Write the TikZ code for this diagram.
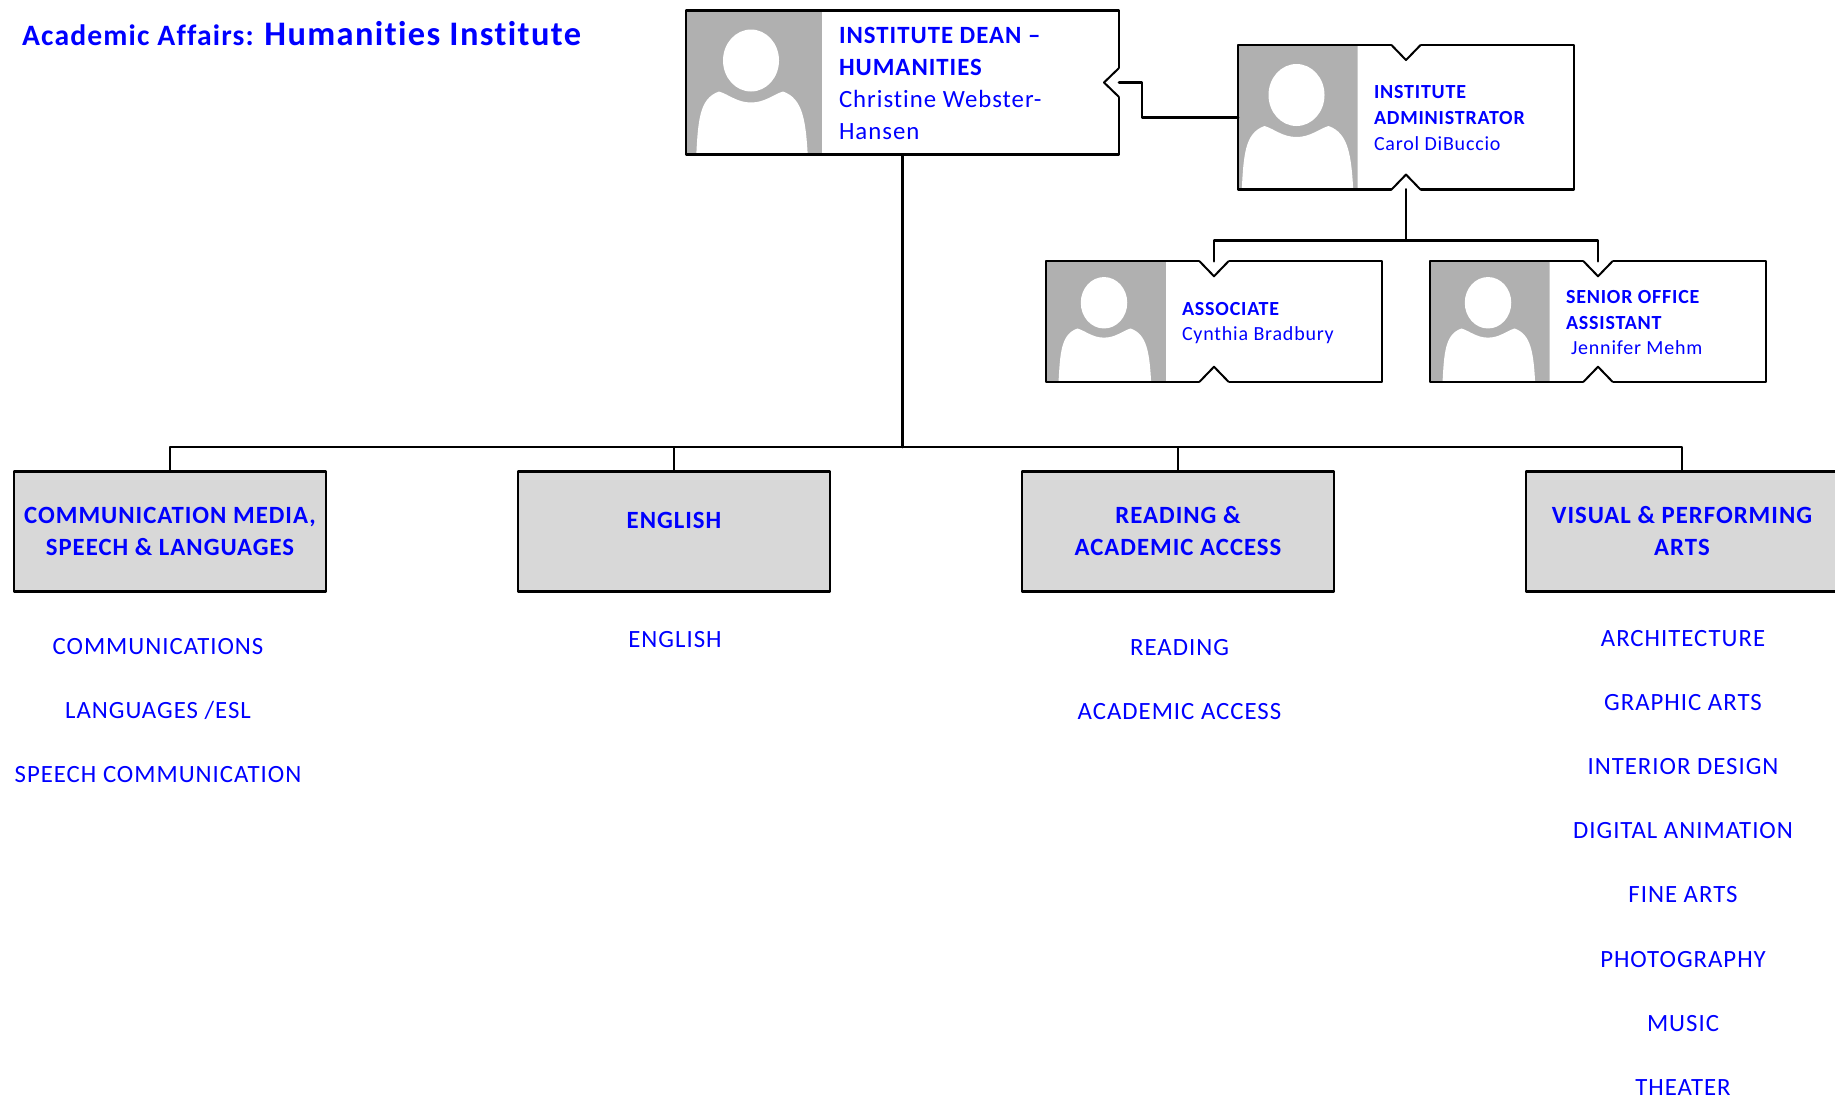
\documentclass[tikz,border=0pt]{standalone}
\usepackage{fontspec}
\setmainfont{Carlito}[LetterSpace=4,Ligatures=NoCommon]
\definecolor{labelblue}{HTML}{0000FF}
\definecolor{photogray}{HTML}{B0B0B0}
\definecolor{deptgray}{HTML}{D8D8D8}

\begin{document}
\begin{tikzpicture}[x=.5pt, y=-.5pt,
				line join=round, line cap=round,
				every node/.style = {inner sep=0pt, outer sep=0pt, text=labelblue},
				orgline/.style = {line width=1.4pt},
				thinline/.style = {line width=.9pt},
				cardbox/.style 2 args = {draw, line width=1.2pt,
					minimum width=#1*.5pt, minimum height=#2*.5pt},
				deptbox/.style = {draw, fill=deptgray, line width=1.1pt,
					minimum width=156pt, minimum height=60pt, align=center,
					font=\fontsize{12.4}{16}\selectfont\bfseries},
				bigtext/.style = {anchor=west, align=left, font=\fontsize{12.4}{16}\selectfont},
				cardtext/.style = {anchor=west, align=left, font=\fontsize{10}{12.8}\selectfont},
				itemtext/.style = {font=\fontsize{12.4}{14}\selectfont},
				pics/personphoto/.style n args = {4}{code={
					\clip (0,0) rectangle (#1,#2);
					\fill[photogray] (0,0) rectangle (#1,#2);
					\begin{scope}[shift={(#3,0)}, scale=#4]
						\fill[white] (0,50) ellipse [x radius=28, y radius=31];
						\fill[white] (-55,150) .. controls (-53,110) and (-52,88) .. (-32,81)
							.. controls (-22,84) and (-14,92) .. (0,92)
							.. controls (14,92) and (22,84) .. (32,81)
							.. controls (52,88) and (55,110) .. (57,150) -- cycle;
					\end{scope}
				}},
				pics/notchmark/.style = {code={
					\fill[white] (-14.5,-2.5) -- (14.5,-2.5) -- (14.5,0) -- (0,15) -- (-14.5,0) -- cycle;
					\draw[line width=1pt] (-14.5,0) -- (0,15) -- (14.5,0);
				}}
				]
				\useasboundingbox (0,0) rectangle (1835,1100);

				\node[anchor=base west, font=\fontsize{14.8}{16}\selectfont\bfseries] (title) at (22,45)
					{Academic Affairs: {\fontsize{17.2}{16}\selectfont Humanities Institute}};

				\pic at (686,10.5) {personphoto={136}{144}{65}{1}};
				\pic at (1238,45) {personphoto={119.5}{144.5}{58.5}{1}};
				\pic at (1046,261.25) {personphoto={120}{120.5}{58}{.83}};
				\pic at (1430,261.25) {personphoto={119.5}{120.5}{58}{.83}};

				\node[cardbox={433}{144}] (dean) at (902.5,82.5) {};
				\node[cardbox={336}{144.5}] (admin) at (1406,117.3) {};
				\node[cardbox={336}{120.5}] (assoc) at (1214,321.5) {};
				\node[cardbox={336}{120.5}] (senior) at (1598,321.5) {};

				\pic[rotate=-90] at (dean.east) {notchmark};
				\pic at (admin.north) {notchmark};
				\pic[rotate=180] at (admin.south) {notchmark};
				\pic at (assoc.north) {notchmark};
				\pic[rotate=180] at (assoc.south) {notchmark};
				\pic at (senior.north) {notchmark};
				\pic[rotate=180] at (senior.south) {notchmark};

				\node[bigtext] (deanlabel) at (839,83)
					{\textbf{INSTITUTE DEAN --}\\ \textbf{HUMANITIES}\\ Christine Webster-\\ Hansen};
				\node[cardtext] (adminlabel) at (1374,118)
					{\textbf{INSTITUTE}\\ \textbf{ADMINISTRATOR}\\ Carol DiBuccio};
				\node[cardtext] (assoclabel) at (1182,323)
					{\textbf{ASSOCIATE}\\ Cynthia Bradbury};
				\node[cardtext] (seniorlabel) at (1566,322.5)
					{\textbf{SENIOR OFFICE}\\ \textbf{ASSISTANT}\\ \hspace*{2.5pt}Jennifer Mehm};

				\node[deptbox] (comm) at (170,531.5) {COMMUNICATION MEDIA,\\ SPEECH \& LANGUAGES};
				\node[deptbox, text depth=11.5pt] (english) at (674,531.5) {ENGLISH};
				\node[deptbox] (reading) at (1178,531.5) {READING \&\\ ACADEMIC ACCESS};
				\node[deptbox] (visual) at (1682,531.5) {VISUAL \& PERFORMING\\ ARTS};

				\coordinate (trunk) at (902.5,447);
				\draw[orgline] (dean.east) -- ++(23,0) |- (admin.west);
				\draw[orgline] (admin.south) -- ++(0,51) -| (assoc.north);
				\draw[orgline] (admin.south) -- ++(0,51) -| (senior.north);
				\draw[orgline] (dean.south) -- (trunk);
				\draw[orgline] (trunk) -| (comm.north);
				\draw[thinline] (trunk) -| (english.north);
				\draw[thinline] (trunk) -| (reading.north);
				\draw[orgline] (trunk) -| (visual.north);

				\node[itemtext] (commone) at (158,647) {COMMUNICATIONS};
				\node[itemtext] (commtwo) at (158,710.5) {LANGUAGES /ESL};
				\node[itemtext] (commthree) at (158,775) {SPEECH COMMUNICATION};
				\node[itemtext] (engone) at (675,640) {ENGLISH};
				\node[itemtext] (readone) at (1179.5,648) {READING};
				\node[itemtext] (readtwo) at (1179.5,712) {ACADEMIC ACCESS};
				\foreach \itemname/\itemy [count=\i] in {ARCHITECTURE/639, GRAPHIC ARTS/703,
					INTERIOR DESIGN/767, DIGITAL ANIMATION/831, FINE ARTS/895,
					PHOTOGRAPHY/960, MUSIC/1024, THEATER/1088}
					\node[itemtext] (visual\i) at (1683,\itemy) {\itemname};
				\end{tikzpicture}
\end{document}
